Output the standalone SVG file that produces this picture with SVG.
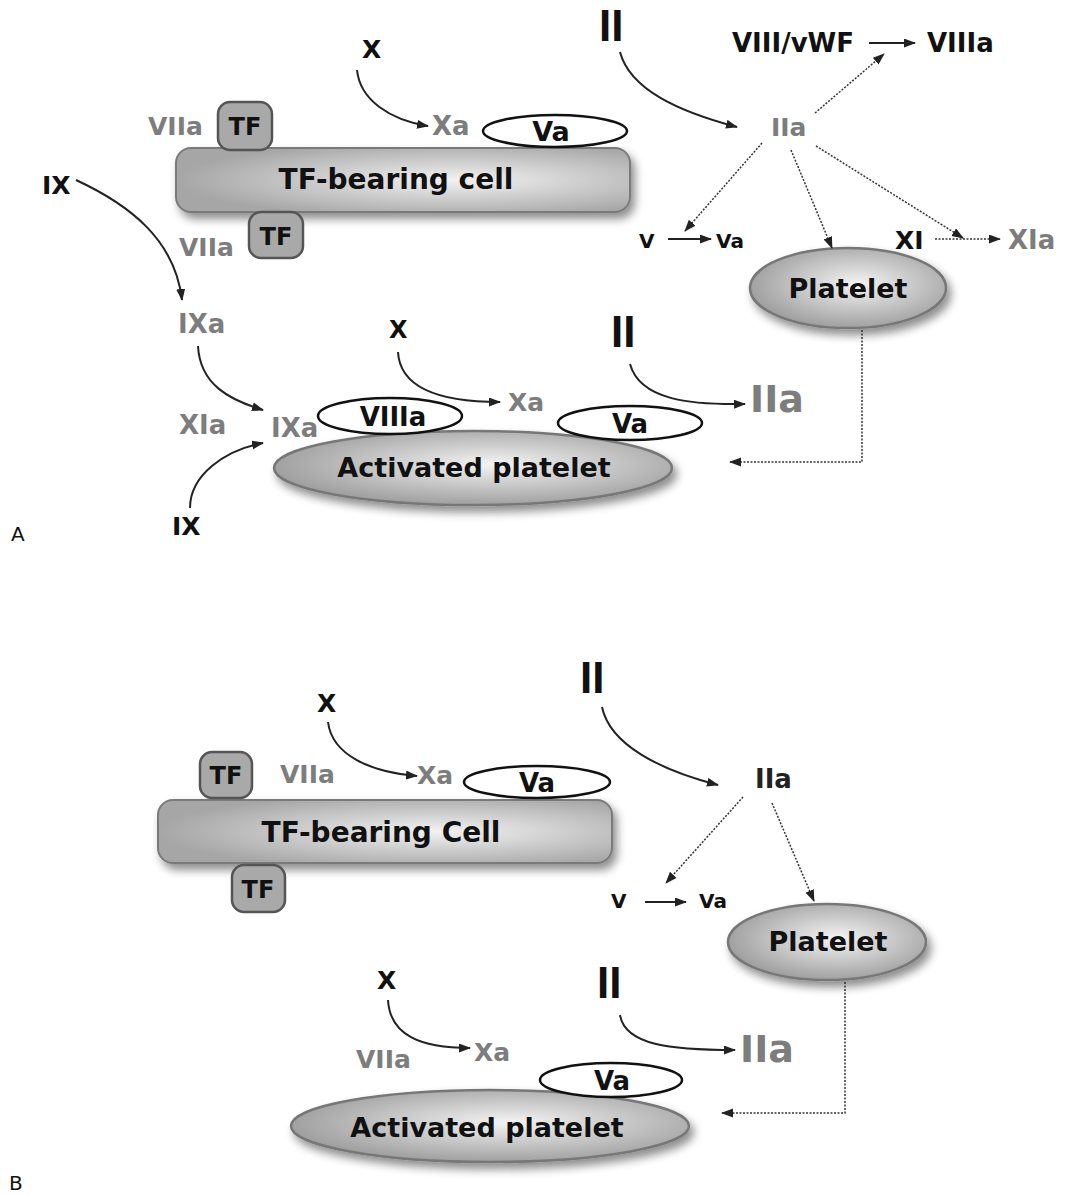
<svg xmlns="http://www.w3.org/2000/svg" width="1070" height="1195" viewBox="0 0 1070 1195">
<style>
text{font-family:"DejaVu Sans","Liberation Sans",sans-serif;font-weight:bold}
.blk{fill:#111}
.gry{fill:#7d7d7d}
.big2{font-family:"Liberation Sans",Arial,sans-serif;font-size:44px;fill:#111}
.lbl{font-weight:normal;font-size:20px;fill:#111}
.ln{fill:none;stroke:#222;stroke-width:2}
.dot{fill:none;stroke:#333;stroke-width:1.5;stroke-dasharray:2 1.5}
.cell{fill:url(#cellG);stroke:#7a7a7a;stroke-width:2;filter:url(#sh)}
.plt{fill:url(#pltG);stroke:#777;stroke-width:2.5;filter:url(#sh)}
.tf{fill:#a9a9a9;stroke:#555;stroke-width:2.5}
.cof{fill:#fff;stroke:#111;stroke-width:2.5}
</style>
<defs>
<radialGradient id="cellG" cx="0.6" cy="0.5" r="0.6" fx="0.62" fy="0.5">
<stop offset="0" stop-color="#f2f2f2"/>
<stop offset="1" stop-color="#a6a6a6"/>
</radialGradient>
<radialGradient id="pltG" cx="0.55" cy="0.45" r="0.6">
<stop offset="0" stop-color="#f4f4f4"/>
<stop offset="1" stop-color="#999"/>
</radialGradient>
<filter id="sh" x="-20%" y="-30%" width="140%" height="170%">
<feGaussianBlur in="SourceAlpha" stdDeviation="5"/>
<feOffset dx="4" dy="6" result="b"/>
<feComponentTransfer><feFuncA type="linear" slope="0.45"/></feComponentTransfer>
<feMerge><feMergeNode/><feMergeNode in="SourceGraphic"/></feMerge>
</filter>
<marker id="ah" markerUnits="userSpaceOnUse" markerWidth="12" markerHeight="10" refX="11" refY="4.5" orient="auto">
<path d="M0,0 L12,4.5 L0,9 z" fill="#222"/>
</marker>
</defs>

<!-- Panel A -->
<g id="A-label"><text class="lbl" x="11" y="541">A</text></g>

<g id="A-tfcell">
<rect class="cell" x="176" y="148" width="454" height="64" rx="15"/>
<text class="blk" x="396" y="189" font-size="28" text-anchor="middle" fill="#222">TF-bearing cell</text>
</g>
<g id="A-tf1"><rect class="tf" x="218" y="102" width="54" height="48" rx="12"/><text class="blk" x="245" y="135" font-size="24" text-anchor="middle">TF</text></g>
<g id="A-tf2"><rect class="tf" x="249" y="212" width="54" height="46" rx="12"/><text class="blk" x="276" y="245" font-size="24" text-anchor="middle">TF</text></g>
<g id="A-viia1"><text class="gry" x="148" y="135" font-size="25">VIIa</text></g>
<g id="A-viia2"><text class="gry" x="179" y="256" font-size="25">VIIa</text></g>
<g id="A-x1"><text class="blk" x="362" y="58" font-size="25">X</text></g>
<g id="A-xa1"><text class="gry" x="432" y="135" font-size="26">Xa</text></g>
<g id="A-va1"><ellipse class="cof" cx="555" cy="131" rx="72" ry="16"/><text class="blk" x="551" y="141" font-size="27" text-anchor="middle">Va</text></g>
<g id="A-ii1"><text class="big2" x="599" y="41" font-weight="bold">II</text></g>
<g id="A-iia1"><text class="gry" x="771" y="136" font-size="25">IIa</text></g>
<g id="A-viii"><text class="blk" x="732" y="52" font-size="26">VIII/vWF</text></g>
<g id="A-viiia"><text class="blk" x="927" y="52" font-size="26">VIIIa</text></g>
<g id="A-v"><text class="blk" x="639" y="248" font-size="20">V</text></g>
<g id="A-va2"><text class="blk" x="716" y="248" font-size="20">Va</text></g>
<g id="A-xi"><text class="blk" x="895" y="249" font-size="25">XI</text></g>
<g id="A-xia1"><text class="gry" x="1008" y="249" font-size="26">XIa</text></g>
<g id="A-platelet"><ellipse class="plt" cx="848" cy="288" rx="98" ry="40"/><text class="blk" x="848" y="298" font-size="27" text-anchor="middle" fill="#222">Platelet</text></g>
<g id="A-ix1"><text class="blk" x="42" y="194" font-size="25">IX</text></g>
<g id="A-ixa1"><text class="gry" x="178" y="333" font-size="26">IXa</text></g>
<g id="A-xia2"><text class="gry" x="179" y="434" font-size="26">XIa</text></g>
<g id="A-ixa2"><text class="gry" x="271" y="437" font-size="26">IXa</text></g>
<g id="A-ix2"><text class="blk" x="172" y="535" font-size="25">IX</text></g>
<g id="A-actplt"><ellipse class="plt" cx="473" cy="468" rx="199" ry="37"/><text class="blk" x="474" y="477" font-size="27" text-anchor="middle" fill="#222">Activated platelet</text></g>
<g id="A-viiia2"><ellipse class="cof" cx="390" cy="416" rx="72" ry="18"/><text class="blk" x="393" y="426" font-size="26" text-anchor="middle">VIIIa</text></g>
<g id="A-va3"><ellipse class="cof" cx="630" cy="423" rx="72" ry="17"/><text class="blk" x="630" y="433" font-size="26" text-anchor="middle">Va</text></g>
<g id="A-x2"><text class="blk" x="389" y="338" font-size="24">X</text></g>
<g id="A-xa2"><text class="gry" x="508" y="411" font-size="25">Xa</text></g>
<g id="A-ii2"><text class="big2" x="611" y="347" font-size="42" font-weight="bold">II</text></g>
<g id="A-iia2"><text class="gry" x="750" y="412" font-size="38">IIa</text></g>

<!-- Panel B -->
<g id="B-label"><text class="lbl" x="9" y="1190">B</text></g>
<g id="B-tfcell">
<rect class="cell" x="158" y="800" width="454" height="63" rx="15"/>
<text class="blk" x="381" y="842" font-size="28" text-anchor="middle" fill="#222">TF-bearing Cell</text>
</g>
<g id="B-tf1"><rect class="tf" x="200" y="752" width="52" height="46" rx="12"/><text class="blk" x="226" y="784" font-size="24" text-anchor="middle">TF</text></g>
<g id="B-tf2"><rect class="tf" x="232" y="865" width="53" height="47" rx="12"/><text class="blk" x="258" y="898" font-size="24" text-anchor="middle">TF</text></g>
<g id="B-viia1"><text class="gry" x="280" y="783" font-size="25">VIIa</text></g>
<g id="B-x1"><text class="blk" x="317" y="712" font-size="25">X</text></g>
<g id="B-xa1"><text class="gry" x="417" y="784" font-size="25">Xa</text></g>
<g id="B-va1"><ellipse class="cof" cx="537" cy="782" rx="73" ry="16"/><text class="blk" x="537" y="792" font-size="26" text-anchor="middle">Va</text></g>
<g id="B-ii1"><text class="big2" x="580" y="693" font-weight="bold">II</text></g>
<g id="B-iia1"><text x="755" y="788" font-size="26" font-weight="normal" fill="#222">IIa</text></g>
<g id="B-v"><text class="blk" x="611" y="908" font-size="20">V</text></g>
<g id="B-va2"><text class="blk" x="699" y="908" font-size="20">Va</text></g>
<g id="B-platelet"><ellipse class="plt" cx="827" cy="942" rx="99" ry="38"/><text class="blk" x="828" y="951" font-size="27" text-anchor="middle" fill="#222">Platelet</text></g>
<g id="B-x2"><text class="blk" x="377" y="989" font-size="25">X</text></g>
<g id="B-viia2"><text class="gry" x="356" y="1068" font-size="25">VIIa</text></g>
<g id="B-xa2"><text class="gry" x="474" y="1061" font-size="25">Xa</text></g>
<g id="B-ii2"><text class="big2" x="597" y="998" font-size="42" font-weight="bold">II</text></g>
<g id="B-iia2"><text class="gry" x="740" y="1062" font-size="38">IIa</text></g>
<g id="B-actplt"><ellipse class="plt" cx="490" cy="1126" rx="199" ry="36"/><text class="blk" x="487" y="1137" font-size="27" text-anchor="middle" fill="#222">Activated platelet</text></g>
<g id="B-va3"><ellipse class="cof" cx="611" cy="1080" rx="71" ry="17"/><text class="blk" x="612" y="1090" font-size="26" text-anchor="middle">Va</text></g>

<g id="connectors">
<!-- A solid -->
<path class="ln" marker-end="url(#ah)" d="M357,70 C360,100 390,120 428,126"/>
<path class="ln" marker-end="url(#ah)" d="M620,52 C630,90 680,112 737,127"/>
<path class="ln" marker-end="url(#ah)" d="M76,180 C130,205 175,240 182,300"/>
<path class="ln" marker-end="url(#ah)" d="M198,346 C200,385 230,400 263,410"/>
<path class="ln" marker-end="url(#ah)" d="M190,508 C190,475 225,450 263,443"/>
<path class="ln" marker-end="url(#ah)" d="M398,352 C400,388 440,402 500,402"/>
<path class="ln" marker-end="url(#ah)" d="M630,364 C640,400 690,405 745,404"/>
<path class="ln" marker-end="url(#ah)" d="M869,43 L915,43"/>
<path class="ln" marker-end="url(#ah)" d="M668,239 L711,239"/>
<!-- A dotted -->
<path class="dot" marker-end="url(#ah)" d="M815,113 L884,54"/>
<path class="dot" marker-end="url(#ah)" d="M762,143 L685,231"/>
<path class="dot" marker-end="url(#ah)" d="M791,150 L832,248"/>
<path class="dot" marker-end="url(#ah)" d="M816,146 L963,238"/>
<path class="dot" marker-end="url(#ah)" d="M935,239 L1000,239"/>
<path class="dot" marker-end="url(#ah)" d="M862,330 L862,462 L730,462"/>
<!-- B solid -->
<path class="ln" marker-end="url(#ah)" d="M328,722 C332,755 370,772 417,776"/>
<path class="ln" marker-end="url(#ah)" d="M602,707 C610,745 660,770 718,785"/>
<path class="ln" marker-end="url(#ah)" d="M388,1000 C390,1035 420,1048 470,1048"/>
<path class="ln" marker-end="url(#ah)" d="M620,1015 C625,1045 670,1050 735,1050"/>
<path class="ln" marker-end="url(#ah)" d="M645,902 L686,902"/>
<!-- B dotted -->
<path class="dot" marker-end="url(#ah)" d="M743,797 L666,883"/>
<path class="dot" marker-end="url(#ah)" d="M772,803 L814,901"/>
<path class="dot" marker-end="url(#ah)" d="M845,982 L845,1113 L722,1113"/>
</g>
</svg>
